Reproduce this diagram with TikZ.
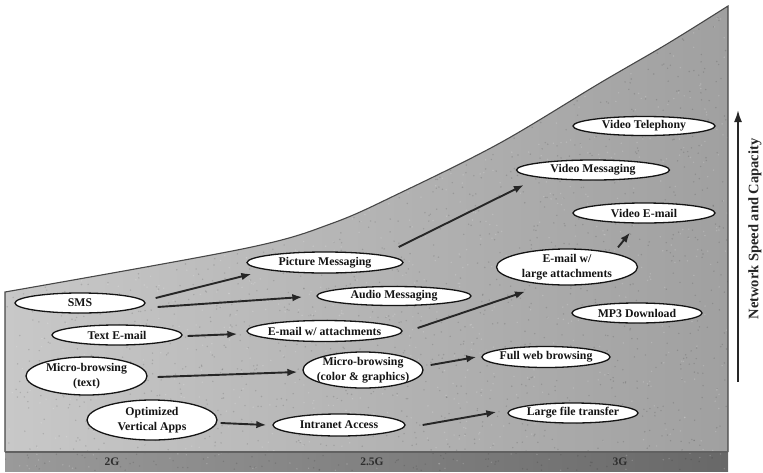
\documentclass[tikz,border=0pt]{standalone}
\usepackage{fontspec}
\setmainfont{Liberation Serif}
\usetikzlibrary{shapes.geometric,arrows.meta,calc}
\definecolor{mainL}{HTML}{C8C8C8}
\definecolor{mainR}{HTML}{A0A0A0}
\definecolor{barL}{HTML}{9A9A9A}
\definecolor{barR}{HTML}{686868}
\definecolor{inkc}{HTML}{262626}
\begin{document}
\begin{tikzpicture}[x=1pt,y=-1pt,
  item/.style={ellipse,draw=black!92,line width=1.3pt,fill=white,inner sep=0pt},
  itemtext/.style={font=\bfseries\fontsize{11.8}{15}\selectfont,align=center,inner sep=0pt,text=black!92},
  conn/.style={draw=inkc,line width=1.9pt,-{Latex[length=10pt,width=7.5pt]}},
  barlabel/.style={font=\bfseries\fontsize{11.5}{13}\selectfont,text=black!82},
  outline/.style={draw=black!72,line width=1.1pt}]
\useasboundingbox (0,0) rectangle (763,472);
% gray region
\path[left color=mainL,right color=mainR]
  (5,452) -- plot[smooth,tension=0.55] coordinates {(5,292) (247,248) (333,223) (400,193) (500,143) (600,83) (667,44) (728,6)} -- (728,452) -- cycle;
% bottom bar
\path[left color=barL,right color=barR] (5,452) rectangle (728,471);
% speckle texture
\begin{scope}
  \clip (5,471) -- plot[smooth,tension=0.55] coordinates {(5,292) (247,248) (333,223) (400,193) (500,143) (600,83) (667,44) (728,6)} -- (728,471) -- cycle;
  \pgfmathsetseed{4242}
  \foreach \i in {1,...,2200} {
    \fill[black,opacity=0.13] ({5+723*rnd},{5+466*rnd}) circle (0.8);
  }
  \foreach \i in {1,...,1200} {
    \fill[white,opacity=0.18] ({5+723*rnd},{5+466*rnd}) circle (0.8);
  }
\end{scope}
\draw[outline]
  (5,452) -- plot[smooth,tension=0.55] coordinates {(5,292) (247,248) (333,223) (400,193) (500,143) (600,83) (667,44) (728,6)} -- (728,452);
\draw[black!62,line width=1.3pt] (5,452) -- (728,452);
\node[barlabel] (g2) at (112,462) {2G};
\node[barlabel] (g25) at (372,462) {2.5G};
\node[barlabel] (g3) at (620,462) {3G};
% items
\node[item,minimum width=130,minimum height=20,label={[itemtext]center:SMS}] (sms) at (80,303) {};
\node[item,minimum width=130,minimum height=20,label={[itemtext]center:Text E-mail}] (temail) at (117,335) {};
\node[item,minimum width=121,minimum height=38,label={[itemtext]center:Micro-browsing\\(text)}] (mbtext) at (86.5,376) {};
\node[item,minimum width=130,minimum height=40,label={[itemtext]center:Optimized\\Vertical Apps}] (opt) at (152,420) {};
\node[item,minimum width=156,minimum height=21,label={[itemtext]center:Picture Messaging}] (pic) at (325,262.5) {};
\node[item,minimum width=154,minimum height=19,label={[itemtext]center:Audio Messaging}] (audio) at (394,296) {};
\node[item,minimum width=155,minimum height=21,label={[itemtext]center:E-mail w/ attachments}] (eatt) at (324.5,331) {};
\node[item,minimum width=120,minimum height=36,label={[itemtext]center:Micro-browsing\\(color \& graphics)}] (mbcolor) at (363,370) {};
\node[item,minimum width=132,minimum height=22,label={[itemtext]center:Intranet Access}] (intranet) at (339,425) {};
\node[item,minimum width=142,minimum height=19,label={[itemtext]center:Video Telephony}] (vtel) at (644,126) {};
\node[item,minimum width=153,minimum height=20,label={[itemtext]center:Video Messaging}] (vmsg) at (593,170) {};
\node[item,minimum width=142,minimum height=20,label={[itemtext]center:Video E-mail}] (vemail) at (644,213) {};
\node[item,minimum width=141,minimum height=36,label={[itemtext]center:E-mail w/\\large attachments}] (elarge) at (567,267) {};
\node[item,minimum width=130,minimum height=20,label={[itemtext]center:MP3 Download}] (mp3) at (637,313) {};
\node[item,minimum width=128,minimum height=21,label={[itemtext]center:Full web browsing}] (fullweb) at (546,357) {};
\node[item,minimum width=130,minimum height=20,label={[itemtext]center:Large file transfer}] (largefile) at (573,413) {};
% connectors
\draw[conn] ($(sms.east)+(10,-5)$) -- ($(pic.west)+(5,11.5)$);
\draw[conn] ($(sms.east)+(12,4)$) -- ($(audio.west)+(-14,1)$);
\draw[conn] ($(temail.east)+(5,1)$) -- ($(eatt.west)+(-9,3)$);
\draw[conn] ($(mbtext.east)+(10,1)$) -- ($(mbcolor.west)+(-5,2)$);
\draw[conn] ($(opt.east)+(3,3)$) -- ($(intranet.west)+(-6,0)$);
\draw[conn] ($(pic.east)+(-5,-15.5)$) -- ($(vmsg.west)+(8,15)$);
\draw[conn] ($(eatt.east)+(15,-3)$) -- ($(elarge.south)+(-42,6)$);
\draw[conn] ($(elarge.north)+(51,-1)$) -- ($(vemail.south)+(-14,9)$);
\draw[conn] ($(mbcolor.east)+(7,-5)$) -- ($(fullweb.west)+(-5,0)$);
\draw[conn] ($(intranet.east)+(17,0)$) -- ($(largefile.west)+(-11,-1)$);
% axis
\coordinate (axbot) at (738,382);
\coordinate (axtop) at (738,110);
\draw[draw=inkc,line width=1.8pt,-{Latex[length=12pt,width=8pt]}] (axbot) -- (axtop);
\node[rotate=90,font=\bfseries\fontsize{14.5}{17}\selectfont,text=black!85] (axislbl) at (755,229) {Network Speed and Capacity};
\end{tikzpicture}
\end{document}
